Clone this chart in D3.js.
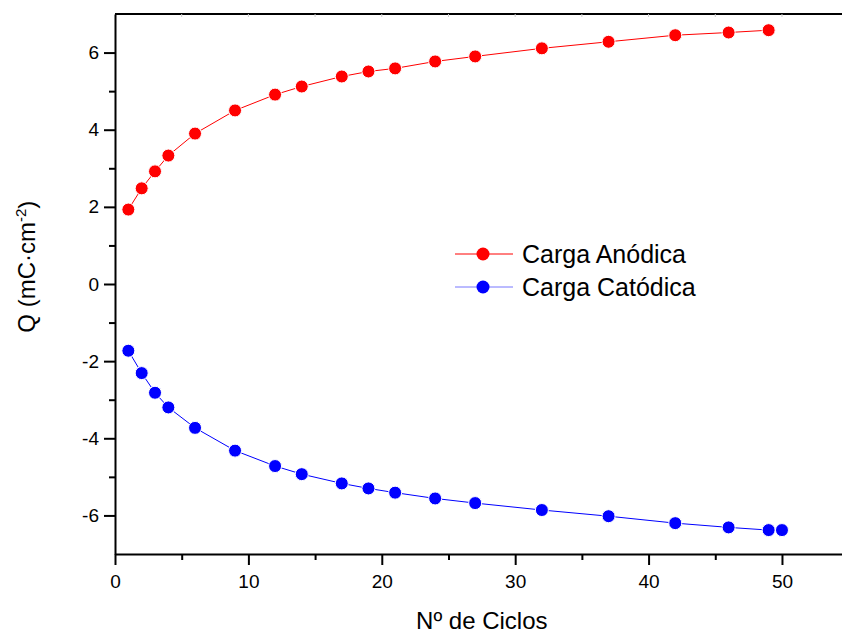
<!DOCTYPE html>
<html>
<head>
<meta charset="utf-8">
<script src="https://cdn.jsdelivr.net/npm/d3@7"></script>
<style>
  body { margin: 0; background: #fff; }
  svg { font-family: "Liberation Sans", Arial, sans-serif; }
  .axis path, .axis line { stroke: #000; }
  .axis text { font-size: 19px; fill: #000; font-family: "Liberation Sans", Arial, sans-serif; }
</style>
</head>
<body>
<div class="main-container"></div>
<script>
let margin = {top: 14, right: 0, bottom: 81, left: 115},
  width = 842 - margin.left - margin.right,
  height = 635 - margin.top - margin.bottom;

const cyclesAn = [1, 2, 3, 4, 6, 9, 12, 14, 17, 19, 21, 24, 27, 32, 37, 42, 46, 49];
const anodica = [1.93, 2.48, 2.92, 3.33, 3.90, 4.50, 4.91, 5.12, 5.38, 5.51, 5.59, 5.77, 5.90, 6.11, 6.28, 6.45, 6.52, 6.58];

const cyclesCat = [1, 2, 3, 4, 6, 9, 12, 14, 17, 19, 21, 24, 27, 32, 37, 42, 46, 49, 50];
const catodica = [-1.73, -2.31, -2.82, -3.20, -3.73, -4.32, -4.72, -4.93, -5.17, -5.30, -5.41, -5.56, -5.68, -5.86, -6.02, -6.20, -6.31, -6.38, -6.38];

const xTicks = [0, 10, 20, 30, 40, 50];
const yTicks = [-6, -4, -2, 0, 2, 4, 6];
const seriesNames = ["Carga Anódica", "Carga Catódica"];

const svg = d3.select(".main-container")
  .append("svg")
  .attr("width", 842)
  .attr("height", 635)
  .append("g")
  .attr("transform", "translate(" + margin.left + "," + margin.top + ")");

let x = d3.scaleLinear().domain([0, 54.5]).range([0, width]);
let y = d3.scaleLinear().domain([-7, 7]).range([height, 0]);

// top frame line with faint minor ticks
svg.append("line")
  .attr("x1", 0).attr("x2", width)
  .attr("y1", 0).attr("y2", 0)
  .attr("stroke", "#000").attr("stroke-width", 2);

svg.append("g")
  .selectAll("line")
  .data(d3.range(5, 55, 5))
  .join("line")
  .attr("x1", d => x(d)).attr("x2", d => x(d))
  .attr("y1", 0).attr("y2", 3)
  .attr("stroke", "#ccc");

// minor ticks
svg.append("g")
  .attr("class", "axis")
  .attr("transform", `translate(0,${height})`)
  .call(d3.axisBottom(x).tickValues(d3.range(5, 55, 10)).tickSize(6).tickFormat(""))
  .call(g => g.select(".domain").remove())
  .selectAll("line").attr("stroke-width", 2);

svg.append("g")
  .attr("class", "axis")
  .call(d3.axisLeft(y).tickValues(d3.range(-5, 7, 2)).tickSize(6).tickFormat(""))
  .call(g => g.select(".domain").remove())
  .selectAll("line").attr("stroke-width", 2);

// major axes
const xAxis = svg.append("g")
  .attr("class", "axis")
  .attr("transform", `translate(0,${height})`)
  .call(d3.axisBottom(x).tickValues(xTicks).tickSize(11).tickSizeOuter(0).tickPadding(10));
xAxis.select(".domain").attr("stroke-width", 2);
xAxis.selectAll("line").attr("stroke-width", 2);

const yAxis = svg.append("g")
  .attr("class", "axis")
  .call(d3.axisLeft(y).tickValues(yTicks).tickSize(11).tickSizeOuter(0).tickPadding(5)
    .tickFormat(d => d < 0 ? "-" + Math.abs(d) : d));
yAxis.select(".domain").attr("stroke-width", 2);
yAxis.selectAll("line").attr("stroke-width", 2);

// axis labels
svg.append("text")
  .attr("x", x(27.5))
  .attr("y", height + 75)
  .attr("text-anchor", "middle")
  .attr("font-size", 24)
  .text("Nº de Ciclos");

const yLab = svg.append("text")
  .attr("transform", `translate(${-80},${y(0.45)}) rotate(-90)`)
  .attr("text-anchor", "middle")
  .attr("font-size", 24);
yLab.append("tspan").text("Q (mC·cm");
yLab.append("tspan").attr("font-size", 15).attr("dy", -9).text("-2");
yLab.append("tspan").attr("dy", 9).text(")");

// series
const series = [
  {name: seriesNames[0], xs: cyclesAn, ys: anodica, color: "#ff0000", legendLine: "#ff0000"},
  {name: seriesNames[1], xs: cyclesCat, ys: catodica, color: "#0000ff", legendLine: "#7777ff"}
];

const line = d3.line()
  .x(d => x(d[0]))
  .y(d => y(d[1]));

series.forEach(s => {
  const pts = s.xs.map((c, i) => [c, s.ys[i]]);
  svg.append("path")
    .datum(pts)
    .attr("fill", "none")
    .attr("stroke", s.color)
    .attr("stroke-width", 1)
    .attr("d", line);
  svg.append("g")
    .selectAll("circle")
    .data(pts)
    .join("circle")
    .attr("cx", d => x(d[0]))
    .attr("cy", d => y(d[1]))
    .attr("r", 6.5)
    .attr("fill", s.color)
    .attr("stroke", "#fff")
    .attr("stroke-width", 1);
});

// legend
const legend = svg.append("g")
  .attr("transform", `translate(${455 - margin.left},${254 - margin.top})`);

series.forEach((s, i) => {
  const g = legend.append("g").attr("transform", `translate(0,${i * 33})`);
  g.append("line")
    .attr("x1", 0).attr("x2", 58)
    .attr("stroke", s.legendLine).attr("stroke-width", 1);
  g.append("circle")
    .attr("cx", 28).attr("r", 6.5)
    .attr("fill", s.color);
  g.append("text")
    .attr("x", 67).attr("dy", "0.36em")
    .attr("font-size", 25)
    .text(s.name);
});
</script>
</body>
</html>
